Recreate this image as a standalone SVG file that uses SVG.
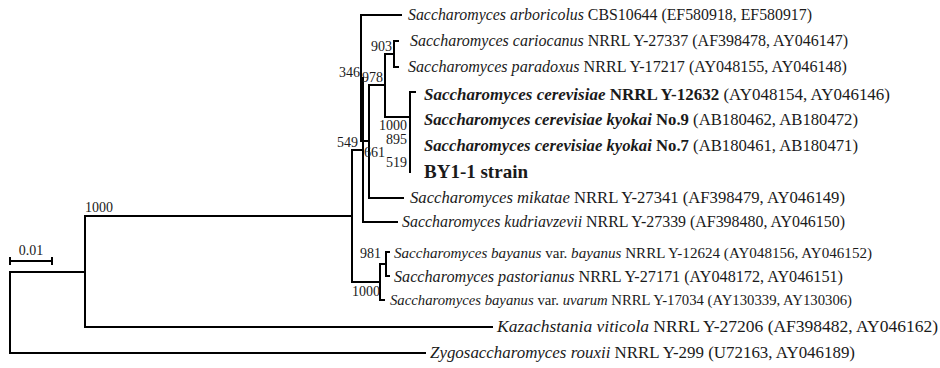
<svg xmlns="http://www.w3.org/2000/svg" width="940" height="368" viewBox="0 0 940 368">
<style>
.br{fill:none;stroke:#000;stroke-width:2;stroke-linejoin:miter;stroke-linecap:square}
.t{font-family:"Liberation Serif","Times New Roman",serif;font-size:16px;fill:#1a1a1a}
.i{font-style:italic}
.b{font-weight:bold}
.bs{font-family:"Liberation Serif","Times New Roman",serif;font-size:14px;fill:#1a1a1a}
</style>
<rect width="940" height="368" fill="#fff"/>
<g id="connectors" class="br">
<path d="M85,272 H10 V353 H425"/>
<path d="M352,216 H85 V327 H492"/>
<path d="M362,150 H352 V282 H380"/>
<path d="M361,78 H363 V222 H397"/>
<path d="M401,15 H361 V141 H369"/>
<path d="M385,85 H369 V198 H403"/>
<path d="M394,54 H385 V117 H410"/>
<path d="M398,41 H394 V67 H398"/>
<path d="M415,92 H410 V172"/>
<path d="M386,264 H380 V300 H384"/>
<path d="M389,252 H386 V276 H389"/>
</g>
<g id="scale-bar">
<path class="br" d="M10,258 V264 M10,261 H52 M52,258 V264"/>
<text class="bs" x="31" y="255" text-anchor="middle">0.01</text>
</g>
<g id="bootstrap">
<text class="bs" x="85" y="212">1000</text>
<text class="bs" x="360" y="77" text-anchor="end">346</text>
<text class="bs" x="392" y="51" text-anchor="end">903</text>
<text class="bs" x="383" y="82" text-anchor="end">978</text>
<text class="bs" x="407" y="130" text-anchor="end">1000</text>
<text class="bs" x="407" y="144" text-anchor="end">895</text>
<text class="bs" x="407" y="167" text-anchor="end">519</text>
<text class="bs" x="358" y="147" text-anchor="end">549</text>
<text class="bs" x="364" y="157">661</text>
<text class="bs" x="381" y="258" text-anchor="end">981</text>
<text class="bs" x="380" y="296" text-anchor="end">1000</text>
</g>
<g id="leaf-arboricolus"><text class="t" x="408" y="20" textLength="404" lengthAdjust="spacingAndGlyphs"><tspan class="i">Saccharomyces arboricolus</tspan> CBS10644 (EF580918, EF580917)</text></g>
<g id="leaf-cariocanus"><text class="t" x="410" y="46" textLength="438" lengthAdjust="spacingAndGlyphs"><tspan class="i">Saccharomyces cariocanus</tspan> NRRL Y-27337 (AF398478, AY046147)</text></g>
<g id="leaf-paradoxus"><text class="t" x="408" y="72" textLength="439" lengthAdjust="spacingAndGlyphs"><tspan class="i">Saccharomyces paradoxus</tspan> NRRL Y-17217 (AY048155, AY046148)</text></g>
<g id="leaf-cerevisiae"><text class="t" x="424" y="100" textLength="466" lengthAdjust="spacingAndGlyphs"><tspan class="i b">Saccharomyces cerevisiae</tspan><tspan class="b"> NRRL Y-12632</tspan> (AY048154, AY046146)</text></g>
<g id="leaf-kyokai9"><text class="t" x="424" y="125" textLength="434" lengthAdjust="spacingAndGlyphs"><tspan class="i b">Saccharomyces cerevisiae kyokai</tspan><tspan class="b"> No.9</tspan> (AB180462, AB180472)</text></g>
<g id="leaf-kyokai7"><text class="t" x="424" y="151" textLength="434" lengthAdjust="spacingAndGlyphs"><tspan class="i b">Saccharomyces cerevisiae kyokai</tspan><tspan class="b"> No.7</tspan> (AB180461, AB180471)</text></g>
<g id="leaf-by1-1"><text class="t b" x="424" y="178" style="font-size:19px">BY1-1 strain</text></g>
<g id="leaf-mikatae"><text class="t" x="410" y="203" textLength="435" lengthAdjust="spacingAndGlyphs"><tspan class="i">Saccharomyces mikatae</tspan> NRRL Y-27341 (AF398479, AY046149)</text></g>
<g id="leaf-kudriavzevii"><text class="t" x="402" y="227" textLength="443" lengthAdjust="spacingAndGlyphs"><tspan class="i">Saccharomyces kudriavzevii</tspan> NRRL Y-27339 (AF398480, AY046150)</text></g>
<g id="leaf-bayanus"><text class="t" x="394" y="258" style="font-size:15px" textLength="478" lengthAdjust="spacingAndGlyphs"><tspan class="i">Saccharomyces bayanus</tspan> var. <tspan class="i">bayanus</tspan> NRRL Y-12624 (AY048156, AY046152)</text></g>
<g id="leaf-pastorianus"><text class="t" x="394" y="282" textLength="449" lengthAdjust="spacingAndGlyphs"><tspan class="i">Saccharomyces pastorianus</tspan> NRRL Y-27171 (AY048172, AY046151)</text></g>
<g id="leaf-uvarum"><text class="t" x="390" y="305" style="font-size:15px" textLength="462" lengthAdjust="spacingAndGlyphs"><tspan class="i">Saccharomyces bayanus</tspan> var. <tspan class="i">uvarum</tspan> NRRL Y-17034 (AY130339, AY130306)</text></g>
<g id="leaf-kazachstania"><text class="t" x="497" y="332" textLength="441" lengthAdjust="spacingAndGlyphs"><tspan class="i">Kazachstania viticola</tspan> NRRL Y-27206 (AF398482, AY046162)</text></g>
<g id="leaf-zygo"><text class="t" x="430" y="358" textLength="425" lengthAdjust="spacingAndGlyphs"><tspan class="i">Zygosaccharomyces rouxii</tspan> NRRL Y-299 (U72163, AY046189)</text></g>
</svg>
